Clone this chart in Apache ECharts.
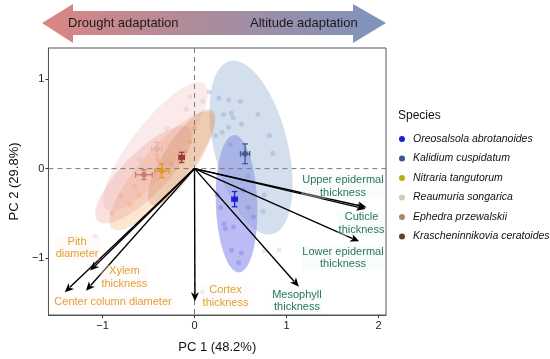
<!DOCTYPE html>
<html>
<head>
<meta charset="utf-8">
<script src="https://cdn.jsdelivr.net/npm/echarts@6/dist/echarts.min.js"></script>
<style>
html,body{margin:0;padding:0;background:#fff;}
#chart{width:550px;height:359px;}
</style>
</head>
<body>
<div id="chart"></div>
<script>
// ---------- data ----------
const species = ['Oreosalsola abrotanoides','Kalidium cuspidatum','Nitraria tangutorum','Reaumuria songarica','Ephedra przewalskii','Krascheninnikovia ceratoides'];
const legendColors = ['#1c1ce0','#3f5390','#b9ab17','#d8c9b2','#a78a66','#5b4527'];
const meanColors = ['#1f1fe0','#3d5c8f','#e39b1a','#e8b2ab','#c97a76','#9a3c34'];
const ellipseColors = ['rgba(95,95,228,0.42)','rgba(135,165,205,0.36)','rgba(242,170,85,0.28)','rgba(242,178,178,0.28)','rgba(226,132,122,0.24)','rgba(205,122,92,0.26)'];
const pointColors = ['rgba(110,110,220,0.45)','rgba(120,145,200,0.40)','rgba(235,170,90,0.30)','rgba(200,190,190,0.40)','rgba(220,140,130,0.30)','rgba(200,130,100,0.30)'];

const meanPC1 = [0.436, 0.55, -0.355, -0.41, -0.55, -0.14];
const meanPC2 = [-0.34, 0.165, -0.025, 0.22, -0.068, 0.125];
const errPC1 = [0.03, 0.05, 0.078, 0.057, 0.09, 0.03];
const errPC2 = [0.085, 0.11, 0.077, 0.075, 0.054, 0.057];

const ellipseCenterPC1 = [0.457, 0.615, -0.354, -0.425, -0.55, -0.14];
const ellipseCenterPC2 = [-0.391, 0.234, -0.025, 0.245, -0.068, 0.126];
const ellipseSemiMajor = [0.765, 0.99, 0.84, 0.88, 0.72, 0.62];
const ellipseSemiMinor = [0.225, 0.40, 0.24, 0.26, 0.24, 0.19];
const ellipseAngle = [92, 103.4, 50, 53, 46, 58];

const pointsOreosalsola = [[0.284,-0.434],[0.32,-0.617],[0.425,-0.65],[0.337,-0.67],[0.585,-0.434],[0.64,-0.54],[0.404,-0.905],[0.51,-0.94],[0.48,-1.047],[0.245,-0.29],[0.53,-0.24]];
const pointsKalidium = [[0.16,0.854],[0.266,0.783],[0.372,0.765],[0.497,0.747],[0.40,0.62],[0.316,0.603],[0.42,0.567],[0.69,0.603],[0.51,0.495],[0.372,0.46],[0.23,0.37],[0.30,0.406],[0.815,0.37],[0.85,0.172],[0.39,0.266],[0.76,-0.294],[0.745,-0.474],[0.58,-0.08]];
const pointsNitraria = [[-0.6,-0.3],[-0.3,0.1],[-0.1,0.3],[-0.7,-0.4]];
const pointsReaumuria = [[-0.05,0.8],[-0.09,0.66],[0.09,0.75],[-0.3,0.45],[-0.6,0.1],[-0.2,0.35],[0.76,-0.918],[0.92,-0.905],[-1.08,-0.756],[0.085,-1.37]];
const pointsEphedra = [[-0.8,-0.3],[-0.4,0.1],[-0.65,-0.2],[-0.9,-0.5]];
const pointsKrascheninnikovia = [[0.0,0.45],[-0.05,0.3],[-0.25,0.05],[-0.1,0.2]];
const speciesPoints = [pointsOreosalsola, pointsKalidium, pointsNitraria, pointsReaumuria, pointsEphedra, pointsKrascheninnikovia];

const traits = ['Upper epidermal\nthickness','Cuticle\nthickness','Lower epidermal\nthickness','Mesophyll\nthickness','Cortex\nthickness','Xylem\nthickness','Pith\ndiameter','Center column diameter'];
const loadPC1 = [1.87, 1.86, 1.79, 1.135, 0.005, -1.18, -1.135, -1.41];
const loadPC2 = [-0.43, -0.45, -0.81, -1.315, -1.476, -1.36, -1.135, -1.376];
const traitGroup = ['altitude','altitude','altitude','altitude','drought','drought','drought','drought'];
// label anchors (layout, data units)
const labelPC1 = [1.614, 1.816, 1.614, 1.114, 0.337, -0.763, -1.277, -0.886];
const labelPC2 = [-0.197, -0.612, -0.994, -1.473, -1.425, -1.21, -0.883, -1.49];

const xTicks = [-1, 0, 1, 2];
const yTicks = [-1, 0, 1];
const xTitle = 'PC 1 (48.2%)';
const yTitle = 'PC 2 (29.8%)';
const topLeftText = 'Drought adaptation';
const topRightText = 'Altitude adaptation';
const legendTitle = 'Species';

// ---------- chart ----------
const FONT = '"Liberation Sans", Arial, Helvetica, sans-serif';
const chart = echarts.init(document.getElementById('chart'), null, {renderer: 'canvas'});
const fmt = v => (v < 0 ? '\u2212' + Math.abs(v) : String(v));

const series = [];

// ellipses
species.forEach((s, i) => {
  series.push({
    type: 'custom', name: 'ellipse-' + i, z: 1, silent: true, clip: true,
    data: [[ellipseCenterPC1[i], ellipseCenterPC2[i], ellipseSemiMajor[i], ellipseSemiMinor[i], ellipseAngle[i]]],
    renderItem: function (params, api) {
      const cx = api.value(0), cy = api.value(1), a = api.value(2), b = api.value(3), th = api.value(4) * Math.PI / 180;
      const pts = [];
      for (let k = 0; k < 120; k++) {
        const t = k / 120 * 2 * Math.PI;
        const dx = a * Math.cos(t), dy = b * Math.sin(t);
        pts.push(api.coord([cx + dx * Math.cos(th) - dy * Math.sin(th), cy + dx * Math.sin(th) + dy * Math.cos(th)]));
      }
      return {type: 'polygon', shape: {points: pts}, style: {fill: ellipseColors[i]}};
    }
  });
});

// faint individual points
species.forEach((s, i) => {
  series.push({
    type: 'scatter', name: 'points-' + i, z: 2, silent: true,
    symbolSize: 5, data: speciesPoints[i],
    itemStyle: {color: pointColors[i]}
  });
});

// zero reference lines
series.push({
  type: 'custom', name: 'zero', z: 3, silent: true,
  data: [[0, 0]],
  renderItem: function (params, api) {
    const cs = params.coordSys;
    const o = api.coord([0, 0]);
    return {type: 'group', children: [
      {type: 'line', shape: {x1: o[0], y1: cs.y, x2: o[0], y2: cs.y + cs.height}, style: {stroke: '#7a7a7a', lineWidth: 1, lineDash: [5, 4]}},
      {type: 'line', shape: {x1: cs.x, y1: o[1], x2: cs.x + cs.width, y2: o[1]}, style: {stroke: '#7a7a7a', lineWidth: 1, lineDash: [5, 4]}}
    ]};
  }
});

// means with error bars (legend series)
species.forEach((s, i) => {
  series.push({
    type: 'custom', name: s, z: 4,
    itemStyle: {color: legendColors[i]},
    data: [[meanPC1[i], meanPC2[i], errPC1[i], errPC2[i]]],
    renderItem: function (params, api) {
      const mx = api.value(0), my = api.value(1), ex = api.value(2), ey = api.value(3);
      const c = api.coord([mx, my]);
      const l = api.coord([mx - ex, my]), r = api.coord([mx + ex, my]);
      const t = api.coord([mx, my + ey]), b = api.coord([mx, my - ey]);
      const st = {stroke: meanColors[i], lineWidth: 1.3};
      const cap = 2.8;
      return {type: 'group', children: [
        {type: 'line', shape: {x1: l[0], y1: c[1], x2: r[0], y2: c[1]}, style: st},
        {type: 'line', shape: {x1: l[0], y1: c[1] - cap, x2: l[0], y2: c[1] + cap}, style: st},
        {type: 'line', shape: {x1: r[0], y1: c[1] - cap, x2: r[0], y2: c[1] + cap}, style: st},
        {type: 'line', shape: {x1: c[0], y1: t[1], x2: c[0], y2: b[1]}, style: st},
        {type: 'line', shape: {x1: c[0] - cap, y1: t[1], x2: c[0] + cap, y2: t[1]}, style: st},
        {type: 'line', shape: {x1: c[0] - cap, y1: b[1], x2: c[0] + cap, y2: b[1]}, style: st},
        {type: 'circle', shape: {cx: c[0], cy: c[1], r: 2.8}, style: {fill: meanColors[i]}}
      ]};
    }
  });
});

// loading arrows
series.push({
  type: 'custom', name: 'loadings', z: 5, silent: true,
  data: traits.map((t, i) => [loadPC1[i], loadPC2[i]]),
  renderItem: function (params, api) {
    const o = api.coord([0, 0]);
    const p = api.coord([api.value(0), api.value(1)]);
    const dx = p[0] - o[0], dy = p[1] - o[1];
    const len = Math.sqrt(dx * dx + dy * dy);
    const ux = dx / len, uy = dy / len;
    const hl = 9, hw = 4;
    const bx = p[0] - ux * hl, by = p[1] - uy * hl;
    return {type: 'group', children: [
      {type: 'line', shape: {x1: o[0], y1: o[1], x2: bx + ux * 2, y2: by + uy * 2}, style: {stroke: '#000', lineWidth: 1.4}},
      {type: 'polygon', shape: {points: [[p[0], p[1]], [bx - uy * hw, by + ux * hw], [bx + ux * 2.5, by + uy * 2.5], [bx + uy * hw, by - ux * hw]]}, style: {fill: '#000'}}
    ]};
  }
});

// trait labels
series.push({
  type: 'custom', name: 'traitLabels', z: 6, silent: true,
  data: traits.map((t, i) => [labelPC1[i], labelPC2[i], i]),
  renderItem: function (params, api) {
    const k = api.value(2);
    const p = api.coord([api.value(0), api.value(1)]);
    const green = traitGroup[k] === 'altitude';
    return {type: 'text', x: p[0], y: p[1], style: {
      text: traits[k], fill: green ? '#2e7558' : '#e0a232',
      font: '11px ' + FONT, align: 'center', verticalAlign: 'middle', lineHeight: 12.5,
      backgroundColor: green ? 'rgba(236,250,246,0.35)' : 'rgba(255,244,240,0.35)',
      padding: [0, 1]
    }};
  }
});

const option = {
  animation: false,
  backgroundColor: '#fff',
  textStyle: {fontFamily: FONT},
  grid: {left: 41, top: 48, width: 345, height: 276, show: true, borderColor: '#555', borderWidth: 1, containLabel: false},
  xAxis: {
    type: 'value', min: -1.588, max: 2.082,
    name: xTitle, nameLocation: 'middle', nameGap: 26,
    nameTextStyle: {fontSize: 13, color: '#111', fontFamily: FONT},
    axisLine: {show: true, onZero: false, lineStyle: {color: '#555'}},
    axisTick: {show: true, length: 3, customValues: xTicks, lineStyle: {color: '#333'}},
    axisLabel: {customValues: xTicks, formatter: fmt, fontSize: 11, color: '#222', margin: 5, fontFamily: FONT},
    splitLine: {show: false}
  },
  yAxis: {
    type: 'value', min: -1.63, max: 1.343,
    name: yTitle, nameLocation: 'middle', nameGap: 23, nameRotate: 90,
    nameTextStyle: {fontSize: 13, color: '#111', fontFamily: FONT},
    axisLine: {show: true, onZero: false, lineStyle: {color: '#555'}},
    axisTick: {show: true, length: 3, customValues: yTicks, lineStyle: {color: '#333'}},
    axisLabel: {customValues: yTicks, formatter: fmt, fontSize: 11, color: '#222', margin: 4, fontFamily: FONT},
    splitLine: {show: false}
  },
  legend: {
    orient: 'vertical', left: 394, top: 127,
    itemWidth: 12, itemHeight: 6, itemGap: 5.5,
    selectedMode: false,
    data: species.map((s, i) => ({name: s, icon: 'circle', itemStyle: {color: legendColors[i]}})),
    textStyle: {fontSize: 10.5, fontStyle: 'italic', color: '#111', fontFamily: FONT, lineHeight: 14}
  },
  graphic: [
    {
      type: 'polygon', z: 10,
      shape: {points: [[42, 23], [73, 4], [73, 11], [353, 11], [353, 4], [386, 23], [353, 43], [353, 35], [73, 35], [73, 43]]},
      style: {fill: new echarts.graphic.LinearGradient(0, 0, 1, 0, [
        {offset: 0, color: '#dc8582'}, {offset: 0.5, color: '#a98c9e'}, {offset: 1, color: '#7c95bd'}
      ])}
    },
    {type: 'text', z: 11, x: 68, y: 23, style: {text: topLeftText, font: '13px ' + FONT, fill: '#1a1a1a', verticalAlign: 'middle'}},
    {type: 'text', z: 11, x: 250, y: 23, style: {text: topRightText, font: '13px ' + FONT, fill: '#1a1a1a', verticalAlign: 'middle'}},
    {type: 'text', z: 11, x: 398, y: 116, style: {text: legendTitle, font: '12px ' + FONT, fill: '#111', verticalAlign: 'middle'}}
  ],
  series: series
};
chart.setOption(option);
</script>
</body>
</html>
